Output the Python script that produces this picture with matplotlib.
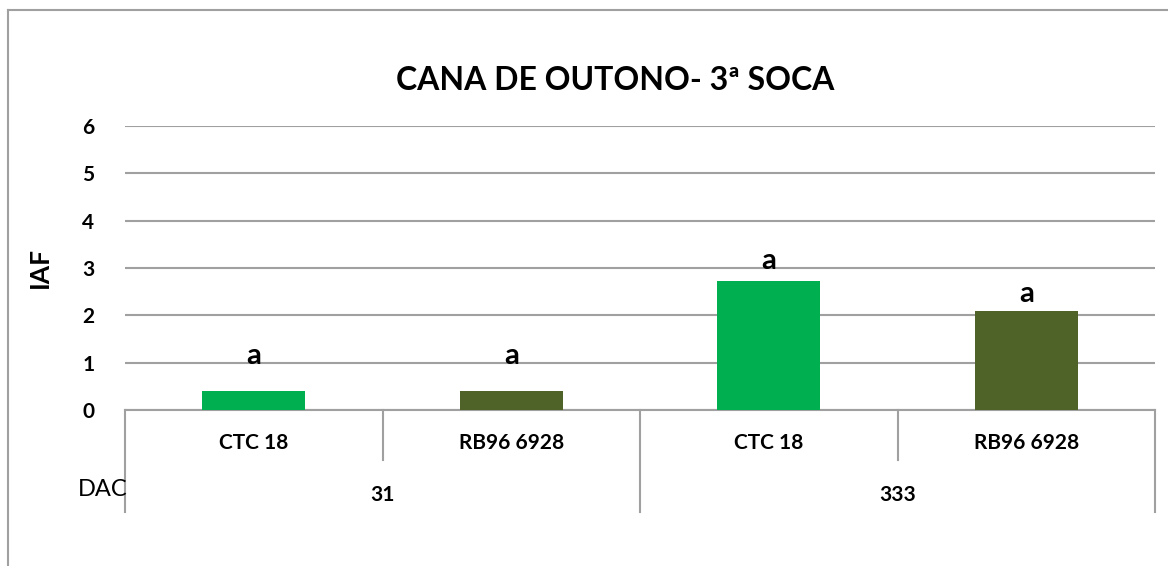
import matplotlib.pyplot as plt
import matplotlib.transforms as mtransforms
from matplotlib.lines import Line2D

# data
cultivars = ["CTC 18", "RB96 6928", "CTC 18", "RB96 6928"]
dac_groups = ["31", "333"]
iaf = [0.40, 0.40, 2.73, 2.09]
letters = ["a", "a", "a", "a"]
letter_offsets = [25, 25, 14, 12]  # points above the bar top
colors = ["#00B050", "#4F6228", "#00B050", "#4F6228"]
yticks = [0, 1, 2, 3, 4, 5, 6]

plt.rcParams["font.family"] = ["Lato", "DejaVu Sans"]
grid_col = "#A0A0A0"

fig = plt.figure(figsize=(11.68, 5.66), dpi=100)
W, H = 1168, 566

# outer chart frame (left and top edges visible)
fig.add_artist(Line2D([8 / W, 8 / W], [0, 1 - 10 / H], transform=fig.transFigure, color=grid_col, lw=1.5))
fig.add_artist(Line2D([8 / W, 1], [1 - 10 / H, 1 - 10 / H], transform=fig.transFigure, color=grid_col, lw=1.5))

ax = fig.add_axes([125 / W, 1 - 410 / H, (1155 - 125) / W, (410 - 126) / H])
x = list(range(len(iaf)))
ax.bar(x, iaf, width=0.4, color=colors, zorder=3)
ax.set_xlim(-0.5, 3.5)
ax.set_ylim(0, 6)
ax.set_yticks(yticks)
ax.set_yticklabels([str(t) for t in yticks], fontsize=15, fontweight="bold")
ax.tick_params(axis="y", length=0, pad=22)
ax.tick_params(axis="x", length=0, labelbottom=False)
for s in ["top", "right", "left"]:
    ax.spines[s].set_visible(False)
ax.spines["bottom"].set_color(grid_col)
ax.spines["bottom"].set_linewidth(1.5)
ax.yaxis.grid(True, color=grid_col, lw=1.5, zorder=0)
ax.set_axisbelow(True)

ax.set_ylabel("IAF", fontsize=19, fontweight="bold", labelpad=22)
fig.text(615 / W, 1 - 80 / H, "CANA DE OUTONO- 3ª SOCA", ha="center", va="center",
         fontsize=23, fontweight="bold")

for xi, v, lt, off in zip(x, iaf, letters, letter_offsets):
    ax.annotate(lt, (xi, v), xytext=(0, off), textcoords="offset points",
                ha="center", va="center", fontsize=21, fontweight="bold")

# multi-level category axis
trans = mtransforms.blended_transform_factory(ax.transData, ax.transAxes)
axh = 410 - 126
short = -(460 - 410) / axh
long_ = -(512 - 410) / axh
for sep in [-0.5, 0.5, 1.5, 2.5, 3.5]:
    bottom = long_ if sep in (-0.5, 1.5, 3.5) else short
    ax.add_line(Line2D([sep, sep], [0, bottom], transform=trans, color=grid_col, lw=1.5, clip_on=False))

for xi, name in zip(x, cultivars):
    ax.text(xi, -(443 - 410) / axh, name, transform=trans, ha="center", va="center",
            fontsize=15, fontweight="bold")
for gi, g in enumerate(dac_groups):
    ax.text(gi * 2 + 0.5, -(495 - 410) / axh, g, transform=trans, ha="center", va="center",
            fontsize=15, fontweight="bold")
ax.text(-0.49, -(490 - 410) / axh, "DAC", transform=trans, ha="right", va="center", fontsize=17)

fig.savefig("out.png", dpi=100)
